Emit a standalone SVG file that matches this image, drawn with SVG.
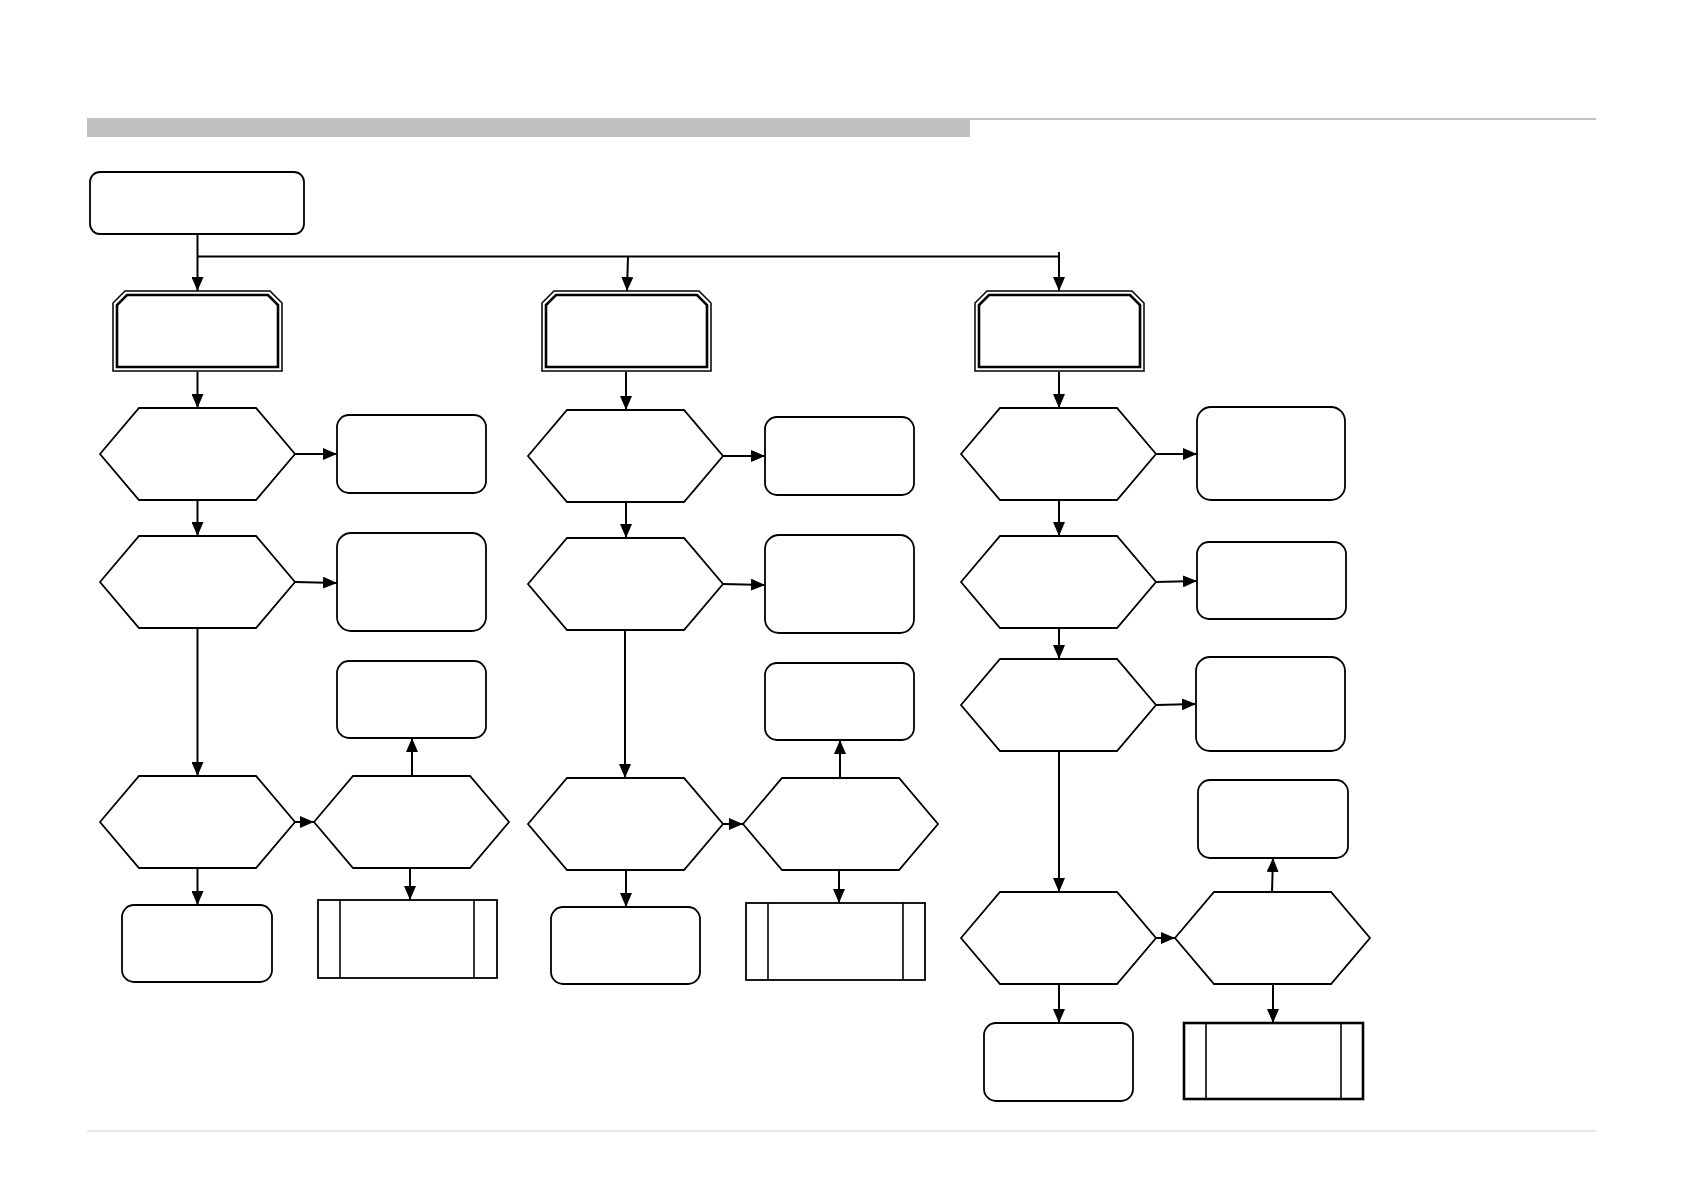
<svg xmlns="http://www.w3.org/2000/svg" xmlns:xlink="http://www.w3.org/1999/xlink" width="1683" height="1191" viewBox="0 0 1683 1191">
<style>
.shape{fill:#fff;stroke:#000;stroke-width:1.8}
.octo{fill:#fff;stroke:#000;stroke-width:1.5}
.octi{fill:#fff;stroke:#000;stroke-width:2.6}
.thick{fill:#fff;stroke:#000;stroke-width:2.6}
.conn{fill:none;stroke:#000;stroke-width:2}
.thin{fill:none;stroke:#000;stroke-width:1.6}
</style>
<defs>
<marker id="ah" markerUnits="userSpaceOnUse" markerWidth="14" markerHeight="12" refX="14" refY="6" orient="auto">
<path d="M0,0 L14,6 L0,12 z" fill="#000"/>
</marker>
<polygon id="hex" points="0,46 39,0 156,0 195,46 156,92 39,92" class="shape"/>
<g id="oct">
<path d="M0,80 L0,12 L12,0 L157,0 L169,12 L169,80 Z" class="octo"/>
<path d="M4,76 L4,14 L14,4 L155,4 L165,14 L165,76 Z" class="octi"/>
</g>
</defs>
<rect width="1683" height="1191" fill="#fff"/>
<g id="header">
<rect x="87" y="118" width="883" height="19" fill="#c0c0c0"/>
<line x1="970" y1="119" x2="1596" y2="119" stroke="#c0c0c0" stroke-width="2"/>
<line x1="87" y1="1131" x2="1596" y2="1131" stroke="#d0d0d0" stroke-width="1.2"/>
</g>
<g id="start"><rect class="shape" x="90" y="172" width="214" height="62" rx="10"/></g>
<!-- column 1 -->
<g id="c1-oct"><use xlink:href="#oct" x="113" y="291"/></g>
<g id="c1-hex1"><use xlink:href="#hex" x="100" y="408"/></g>
<g id="c1-box1"><rect class="shape" x="337" y="415" width="149" height="78" rx="12"/></g>
<g id="c1-hex2"><use xlink:href="#hex" x="100" y="536"/></g>
<g id="c1-box2"><rect class="shape" x="337" y="533" width="149" height="98" rx="14"/></g>
<g id="c1-box3"><rect class="shape" x="337" y="661" width="149" height="77" rx="12"/></g>
<g id="c1-hex3"><use xlink:href="#hex" x="100" y="776"/></g>
<g id="c1-hex4"><use xlink:href="#hex" x="314" y="776"/></g>
<g id="c1-box4"><rect class="shape" x="122" y="905" width="150" height="77" rx="12"/></g>
<g id="c1-proc"><rect class="shape" x="318" y="900" width="179" height="78"/><line class="thin" x1="340" y1="900" x2="340" y2="978"/><line class="thin" x1="474" y1="900" x2="474" y2="978"/></g>
<!-- column 2 -->
<g id="c2-oct"><use xlink:href="#oct" x="542" y="291"/></g>
<g id="c2-hex1"><use xlink:href="#hex" x="528" y="410"/></g>
<g id="c2-box1"><rect class="shape" x="765" y="417" width="149" height="78" rx="12"/></g>
<g id="c2-hex2"><use xlink:href="#hex" x="528" y="538"/></g>
<g id="c2-box2"><rect class="shape" x="765" y="535" width="149" height="98" rx="14"/></g>
<g id="c2-box3"><rect class="shape" x="765" y="663" width="149" height="77" rx="12"/></g>
<g id="c2-hex3"><use xlink:href="#hex" x="528" y="778"/></g>
<g id="c2-hex4"><use xlink:href="#hex" x="743" y="778"/></g>
<g id="c2-box4"><rect class="shape" x="551" y="907" width="149" height="77" rx="12"/></g>
<g id="c2-proc"><rect class="shape" x="746" y="903" width="179" height="77"/><line class="thin" x1="768" y1="903" x2="768" y2="980"/><line class="thin" x1="903" y1="903" x2="903" y2="980"/></g>
<!-- column 3 -->
<g id="c3-oct"><use xlink:href="#oct" x="975" y="291"/></g>
<g id="c3-hex1"><use xlink:href="#hex" x="961" y="408"/></g>
<g id="c3-box1"><rect class="shape" x="1197" y="407" width="148" height="93" rx="14"/></g>
<g id="c3-hex2"><use xlink:href="#hex" x="961" y="536"/></g>
<g id="c3-box2"><rect class="shape" x="1197" y="542" width="149" height="77" rx="12"/></g>
<g id="c3-hex3"><use xlink:href="#hex" x="961" y="659"/></g>
<g id="c3-box3"><rect class="shape" x="1196" y="657" width="149" height="94" rx="14"/></g>
<g id="c3-box4"><rect class="shape" x="1198" y="780" width="150" height="78" rx="12"/></g>
<g id="c3-hex4"><use xlink:href="#hex" x="961" y="892"/></g>
<g id="c3-hex5"><use xlink:href="#hex" x="1175" y="892"/></g>
<g id="c3-box5"><rect class="shape" x="984" y="1023" width="149" height="78" rx="12"/></g>
<g id="c3-proc"><rect class="thick" x="1184" y="1023" width="179" height="76"/><line class="thin" x1="1206" y1="1023" x2="1206" y2="1099"/><line class="thin" x1="1341" y1="1023" x2="1341" y2="1099"/></g>
<g id="connectors">
<path class="conn" d="M197.5,234 L197.5,291" marker-end="url(#ah)"/>
<path class="conn" d="M197.5,256.5 L1059,256.5"/>
<path class="conn" d="M628,256.5 L627,291" marker-end="url(#ah)"/>
<path class="conn" d="M1059,252 L1059,291" marker-end="url(#ah)"/>
<!-- c1 -->
<path class="conn" d="M197.5,372 L197.5,408" marker-end="url(#ah)"/>
<path class="conn" d="M295,454 L337,454" marker-end="url(#ah)"/>
<path class="conn" d="M197.5,500 L197.5,536" marker-end="url(#ah)"/>
<path class="conn" d="M295,582 L337,583" marker-end="url(#ah)"/>
<path class="conn" d="M197.5,628 L197.5,776" marker-end="url(#ah)"/>
<path class="conn" d="M295,822 L314,822" marker-end="url(#ah)"/>
<path class="conn" d="M412,776 L412,738" marker-end="url(#ah)"/>
<path class="conn" d="M197.5,868 L197.5,905" marker-end="url(#ah)"/>
<path class="conn" d="M410,868 L410,900" marker-end="url(#ah)"/>
<!-- c2 -->
<path class="conn" d="M626,372 L626,410" marker-end="url(#ah)"/>
<path class="conn" d="M723,456 L765,456" marker-end="url(#ah)"/>
<path class="conn" d="M626,502 L626,538" marker-end="url(#ah)"/>
<path class="conn" d="M723,584 L765,585" marker-end="url(#ah)"/>
<path class="conn" d="M625,630 L625,778" marker-end="url(#ah)"/>
<path class="conn" d="M723,824 L743,824" marker-end="url(#ah)"/>
<path class="conn" d="M840,778 L840,740" marker-end="url(#ah)"/>
<path class="conn" d="M626,870 L626,907" marker-end="url(#ah)"/>
<path class="conn" d="M839,870 L839,903" marker-end="url(#ah)"/>
<!-- c3 -->
<path class="conn" d="M1059,372 L1059,408" marker-end="url(#ah)"/>
<path class="conn" d="M1156,454 L1197,454" marker-end="url(#ah)"/>
<path class="conn" d="M1059,500 L1059,536" marker-end="url(#ah)"/>
<path class="conn" d="M1156,582 L1197,581" marker-end="url(#ah)"/>
<path class="conn" d="M1059,628 L1059,659" marker-end="url(#ah)"/>
<path class="conn" d="M1156,705 L1196,704" marker-end="url(#ah)"/>
<path class="conn" d="M1059,751 L1059,892" marker-end="url(#ah)"/>
<path class="conn" d="M1156,938 L1175,938" marker-end="url(#ah)"/>
<path class="conn" d="M1272,892 L1273,858" marker-end="url(#ah)"/>
<path class="conn" d="M1059,984 L1059,1023" marker-end="url(#ah)"/>
<path class="conn" d="M1273,984 L1273,1023" marker-end="url(#ah)"/>
</g>
</svg>
